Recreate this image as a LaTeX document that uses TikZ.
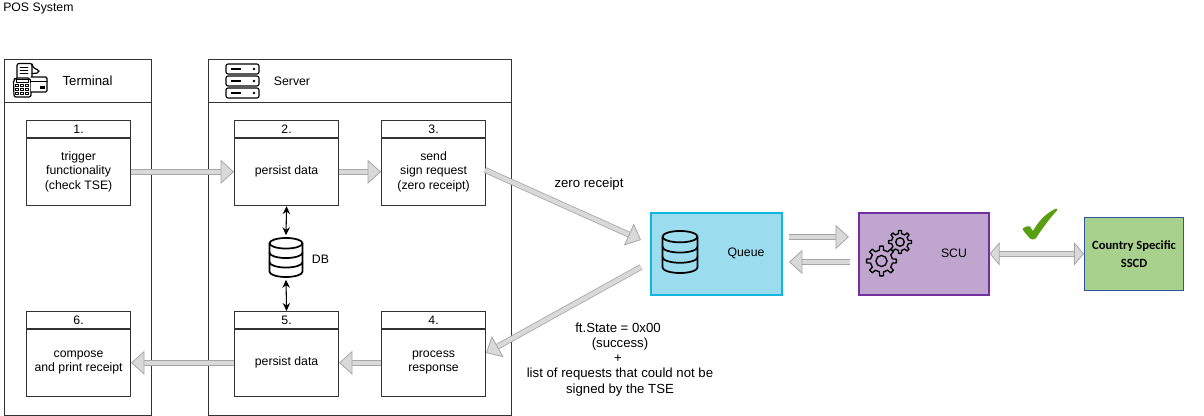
\documentclass[tikz,border=0pt]{standalone}
\usepackage{fontspec}
\setmainfont{Liberation Sans}
\newfontfamily\calibrifont{Carlito}
\usetikzlibrary{arrows.meta,positioning}
\definecolor{barfill}{HTML}{D9D9D9}
\definecolor{barline}{HTML}{A6A6A6}
\definecolor{framecol}{HTML}{333333}
\definecolor{queuefill}{RGB}{155,220,238}
\definecolor{queueline}{RGB}{18,181,222}
\definecolor{scufill}{RGB}{192,166,206}
\definecolor{sculine}{RGB}{112,48,160}
\definecolor{sscdfill}{RGB}{169,209,142}
\definecolor{sscdline}{RGB}{47,85,151}
\definecolor{checkgreen}{RGB}{88,158,14}
\def\upx{0.75pt}
\tikzset{
  base/.style={font=\fontsize{9.2pt}{10.7pt}\selectfont,align=center,text=black},
  lbl/.style={base,inner sep=0pt},
  biglbl/.style={lbl,font=\fontsize{9.9pt}{11pt}\selectfont},
  frame/.style={draw=framecol,line width=0.85pt,fill=white},
  hdr/.style={frame,minimum width=104*\upx,minimum height=17.5*\upx,inner sep=0pt,base},
  body/.style={frame,minimum width=104*\upx,minimum height=67.5*\upx,inner sep=0pt,base},
  blockarrow/.style={draw=barline,line width=0.6pt,double=barfill,double distance=3.2pt,
    arrows={-{Triangle[length=10pt,width=18pt,fill=barfill,color=barline,line width=0.6pt]}}},
  blockboth/.style={draw=barline,line width=0.6pt,double=barfill,double distance=3.2pt,
    arrows={{Triangle[length=7.5pt,width=17.5pt,fill=barfill,color=barline,line width=0.6pt]}-{Triangle[length=7.5pt,width=17.5pt,fill=barfill,color=barline,line width=0.6pt]}}},
  thinarrow/.style={draw=black,line width=0.8pt,arrows={Stealth[length=6pt,width=5.5pt]-Stealth[length=6pt,width=5.5pt]}},
  iconline/.style={draw=black,line width=1.3pt,line join=round,line cap=round},
  invisible/.style={inner sep=0pt,minimum width=36*\upx,minimum height=44*\upx},
}
% stacked database icon: #1 centre, #2 half width, #3 half height
\newcommand{\dbicon}[3]{%
  \begin{scope}[shift={#1}]
    \pgfmathsetmacro{\ry}{#3*0.27}
    \pgfmathsetmacro{\tp}{-#3+\ry}
    \pgfmathsetmacro{\bt}{#3-\ry}
    \pgfmathsetmacro{\mida}{\tp+(\bt-\tp)/3}
    \pgfmathsetmacro{\midb}{\tp+2*(\bt-\tp)/3}
    \draw[iconline] (0,\tp) ellipse [x radius=#2,y radius=\ry];
    \draw[iconline] (-#2,\tp) -- (-#2,\bt) arc[start angle=180,end angle=0,x radius=#2,y radius=\ry] -- (#2,\tp);
    \draw[iconline] (-#2,\mida) arc[start angle=180,end angle=0,x radius=#2,y radius=\ry];
    \draw[iconline] (-#2,\midb) arc[start angle=180,end angle=0,x radius=#2,y radius=\ry];
  \end{scope}}
% gear icon: #1 centre, #2 outer radius
\newcommand{\gearicon}[2]{%
  \begin{scope}[shift={#1}]
    \pgfmathsetmacro{\ri}{#2*0.74}
    \draw[draw=black,line width=1pt,line join=round]
      (-11:\ri)
      \foreach \k in {0,...,7}{
        -- ({\k*45-11}:\ri) -- ({\k*45-7}:#2) -- ({\k*45+7}:#2) -- ({\k*45+11}:\ri) -- ({\k*45+34}:\ri)
      } -- cycle;
    \draw[draw=black,line width=1pt] (0,0) circle ({#2*0.37});
  \end{scope}}
\begin{document}
\begin{tikzpicture}[x=\upx,y=-\upx]
\useasboundingbox (0,0) rectangle (1204,416);
\fill[white] (0,0) rectangle (1204,416);

\node[lbl,anchor=west] (title) at (3,8) {POS System};

% lanes
\node[frame,anchor=north west,minimum width=147*\upx,minimum height=43*\upx,inner sep=0pt] (termh) at (4,59) {};
\node[frame,anchor=north west,minimum width=147*\upx,minimum height=313*\upx,inner sep=0pt] (termb) at (4,102) {};
\node[frame,anchor=north west,minimum width=303*\upx,minimum height=43*\upx,inner sep=0pt] (servh) at (208,59) {};
\node[frame,anchor=north west,minimum width=303*\upx,minimum height=313*\upx,inner sep=0pt] (servb) at (208,102) {};
\node[biglbl] (termt) at (87.5,81) {Terminal};
\node[lbl] (servt) at (292,81) {Server};

% step boxes
\node[hdr,anchor=north west] (h1) at (26,120) {1.};
\node[body,anchor=north west] (b1) at (26,137.5) {trigger\\functionality\\(check TSE)};
\node[hdr,anchor=north west] (h2) at (234,120) {2.};
\node[body,anchor=north west] (b2) at (234,137.5) {persist data};
\node[hdr,anchor=north west] (h3) at (381,120) {3.};
\node[body,anchor=north west] (b3) at (381,137.5) {send\\sign request\\(zero receipt)};
\node[hdr,anchor=north west] (h4) at (381,311) {4.};
\node[body,anchor=north west] (b4) at (381,328.5) {process\\response};
\node[hdr,anchor=north west] (h5) at (234,311) {5.};
\node[body,anchor=north west] (b5) at (234,328.5) {persist data};
\node[hdr,anchor=north west] (h6) at (26,311) {6.};
\node[body,anchor=north west] (b6) at (26,328.5) {compose\\and print receipt};

% DB
\node[invisible] (db) at (286,257.5) {};
\dbicon{(db.center)}{16.5}{19.5}
\node[lbl] (dbt) at (320.5,259) {DB};
\draw[thinarrow] (b2.south) -- (db.north);
\draw[thinarrow] (db.south) -- (h5.north);

% right-hand boxes
\node[draw=queueline,line width=1.2pt,fill=queuefill,anchor=north west,minimum width=131*\upx,minimum height=82*\upx,inner sep=0pt] (queue) at (650,212) {};
\node[draw=sculine,line width=1.2pt,fill=scufill,anchor=north west,minimum width=130*\upx,minimum height=82*\upx,inner sep=0pt] (scu) at (858,212) {};
\node[draw=sscdline,line width=0.8pt,fill=sscdfill,anchor=north west,minimum width=99*\upx,minimum height=73*\upx,inner sep=0pt,align=center,font=\calibrifont\bfseries\fontsize{9.4pt}{13.5pt}\selectfont] (sscd) at (1084,217) {Country Specific\\SSCD};
\node[lbl] (queuet) at (746,253.5) {Queue};
\node[lbl] (scut) at (954,253.5) {SCU};
\dbicon{(680,252)}{17.5}{21}
\gearicon{(881.5,261)}{15}
\gearicon{(900,242)}{11.5}

% check mark
\fill[checkgreen] (1022.5,229) .. controls (1025,226.5) and (1028,225.5) .. (1030,226.5)
  .. controls (1031,228) and (1032,230) .. (1033,231) .. controls (1038,222) and (1045,214) .. (1055,209)
  .. controls (1057,208.5) and (1058,209) .. (1057,210.5) .. controls (1049,219) and (1042,229) .. (1036,238)
  .. controls (1035,240) and (1031,239.5) .. (1030,238.5) .. controls (1027,235) and (1024,232) .. (1022.5,229) -- cycle;

% server icon
\foreach \yy in {64,76,88}{
  \draw[draw=black,line width=0.8pt,rounded corners=1.5pt] (226,\yy) rectangle (259,\yy+10);
  \draw[draw=black,line width=0.8pt] (231,\yy+5) -- (241,\yy+5);
  \fill[black] (254,\yy+5) circle (1.3);
}

% terminal icon
\draw[iconline,line width=0.9pt,rounded corners=1.5pt] (17,78) -- (17,63.5) -- (32,63.5) -- (32,78);
\draw[iconline,line width=0.9pt,rounded corners=1.5pt] (32,64) -- (34,69) -- (39,69.5) -- (39,73) -- (32,73.5);
\draw[iconline,line width=0.7pt] (20,67) -- (28,67) (20,70) -- (28,70) (20,73) -- (28,73);
\draw[iconline,line width=0.9pt,rounded corners=1.5pt,fill=white] (13.5,80) -- (15.5,78) -- (30,78) -- (31,82) -- (31,97) -- (14,97) -- cycle;
\draw[iconline,line width=0.7pt] (16,79.5) rectangle (28,82.5);
\foreach \cx in {17,22,27}{\foreach \cy in {85.5,89.5,93.5}{
  \draw[iconline,line width=0.7pt] (\cx-1.5,\cy-1.2) rectangle (\cx+1.5,\cy+1.2);}}
\draw[iconline,line width=0.9pt,rounded corners=1pt,fill=white] (31,77) -- (47,77) -- (47,92) -- (31,92);
\draw[iconline,line width=0.7pt] (31,81.5) -- (47,81.5);
\fill[black] (40,86) rectangle (45,89.5);

% coordinates of free ends
\coordinate (qin) at (641,240);
\coordinate (qout) at (641,267);
\coordinate (q1) at (789,237);
\coordinate (s1) at (849,237);
\coordinate (s2) at (850,262);
\coordinate (q2) at (789,262);
\coordinate (b3out) at (485,170);
\coordinate (b4in) at (486,353);

% block arrows
\draw[blockarrow] (b1.east) -- (b2.west);
\draw[blockarrow] (b2.east) -- (b3.west);
\draw[blockarrow] (b4.west) -- (b5.east);
\draw[blockarrow] (b5.west) -- (b6.east);
\draw[blockarrow] (b3out) -- (qin);
\draw[blockarrow] (qout) -- (b4in);
\draw[blockarrow] (q1) -- (s1);
\draw[blockarrow] (s2) -- (q2);
\draw[blockboth] (scu.east) -- (sscd.west |- scu.east);

% labels
\node[biglbl] (zr) at (589,184) {zero receipt};
\node[biglbl] (ft1) at (618,328) {ft.State = 0x00};
\node[biglbl] (ft2) at (620,344) {(success)};
\node[biglbl] (ft3) at (618,359) {+};
\node[biglbl] (ft4) at (620,374) {list of requests that could not be};
\node[biglbl] (ft5) at (620,390) {signed by the TSE};
\end{tikzpicture}
\end{document}
